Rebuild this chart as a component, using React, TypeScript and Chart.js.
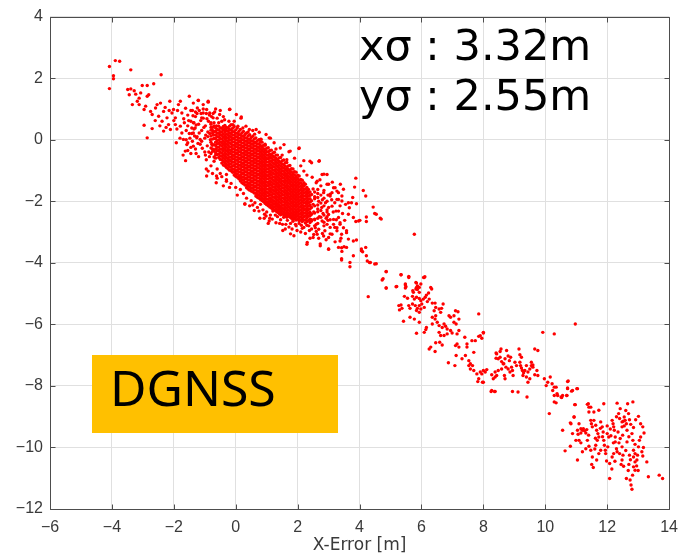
import { useEffect, useRef } from "react";
import { Chart, registerables } from "chart.js";

Chart.register(...registerables);

// ---- axes ----
const xMin = -6;
const xMax = 14;
const yMin = -12;
const yMax = 4;
const tickStep = 2;
const xAxisTitle = "X-Error [m]";

// ---- annotations ----
const sigmaLines = ["xσ : 3.32m", "yσ : 2.55m"];
const badgeText = "DGNSS";

// ---- data (X-Error, Y-Error) in metres ----
const tailPoints: number[][] = [
  [-4.08, 2.38], [-3.89, 2.57], [-3.75, 2.55], [-3.95, 2.08], [-3.95, 1.98], [-4.08, 1.66], [-3.39, 2.27], [-2.41, 2.11],
  [-3.49, 1.63], [-3.39, 1.65], [-3.28, 1.59], [-3.02, 1.76], [-2.86, 1.76], [-2.65, 1.82],
  [-3.44, 1.46], [-3.23, 1.48], [-3.12, 1.35], [-3.07, 1.52],
  [-3.34, 1.14], [-3.18, 1.25], [-3.12, 1.14], [-2.91, 1.09], [-2.86, 1.41], [-2.81, 1.46],
  [-2.96, 0.98], [-2.75, 0.92], [-2.7, 0.82], [-2.59, 1.03], [-2.54, 1.14], [-2.43, 1.19],
  [-2.96, 0.47], [-2.7, 0.36], [-2.86, 0.06],
  [-2.49, 0.76], [-2.38, 0.6], [-2.33, 0.92], [-2.22, 0.71], [-2.13, 1.25], [-2.17, 0.49],
  [-2.06, 0.87], [-2.01, 0.98], [-1.95, 0.71], [-1.85, 1.14], [-1.79, 1.25], [-1.74, 0.87],
  [-1.5, 1.41], [-1.37, 1.19], [-1.21, 1.27], [-1.05, 1.14], [-0.89, 1.25],
  [-1.74, 0.22], [-1.69, 0.01], [-1.63, -0.37], [-1.58, -0.16],
  [-2.33, 0.28], [-2.11, 0.33], [-1.95, 0.49], [-1.79, 0.44],
  [-2.28, 1.05], [-2.15, 0.95], [-2.0, 0.62], [-1.9, 0.35], [-1.88, 0.95], [-1.68, 0.68], [-1.62, 1.02],
  [-1.55, 0.8], [-1.45, 0.95], [-1.42, 0.2], [-1.3, 0.9], [-2.45, 0.45], [-2.6, 0.62], [-2.25, 0.4],
  [-1.8, 0.05], [-1.92, -0.1], [-1.45, -0.45],
];

const haloPoints: number[][] = [
  [-1.55, 0.45], [-1.5, 0.2], [-1.45, 0.6], [-1.4, -0.05], [-1.35, 0.35], [-1.3, 0.75], [-1.3, -0.3], [-1.25, 0.1],
  [-1.2, 0.5], [-1.18, 0.95], [-1.15, -0.15], [-1.1, 0.3], [-1.05, 0.7], [-1.0, -0.4], [-1.0, 0.05], [-0.98, 0.45],
  [-0.95, 0.85], [-0.92, -0.2], [-0.9, 0.25], [-0.88, 0.6], [-0.85, -0.55], [-0.82, 0.0], [-0.8, 0.4], [-0.78, 0.75],
  [-0.75, -0.3], [-0.72, 0.15], [-0.7, 0.55], [-0.7, -0.7], [-0.68, 0.9], [-0.65, -0.5], [-0.62, 0.45], [-0.6, 0.7],
  [-1.45, -0.25], [-1.2, -0.55], [-0.95, -0.65], [-0.8, -0.85], [-0.6, -0.95], [-1.6, 0.0], [-1.35, 0.55], [-1.1, -0.05],
  [-0.9, 0.1], [-0.75, 0.3], [-0.85, 0.8], [-1.25, 0.85], [-1.05, 1.0], [-0.65, 1.0], [-0.5, 0.95], [-0.4, 0.75],
  [-0.55, 0.55], [-0.45, 0.6], [-1.7, -0.5], [-1.62, -0.68], [-1.55, -0.35], [-0.95, -0.95], [-0.75, -1.1], [-0.6, -1.25],
  [-0.4, -1.5], [-0.3, -1.3], [-0.2, -1.55], [-0.5, -1.1], [-0.63, -1.4], [0.29, -2.09], [0.93, -2.42],
  [-1.21, 1.28], [-0.89, 1.22], [-1.24, 1.03], [-0.94, 0.98], [-1.05, 0.87], [-0.84, 0.87], [-1.1, 0.71], [-0.73, 0.71],
  [-0.52, 0.82], [-0.2, 0.98], [0.02, 0.82], [-0.36, 0.65], [0.18, 0.74], [-0.22, 0.6], [-0.09, 0.49], [0.07, 0.44],
  [0.23, 0.38], [0.44, 0.33], [0.66, 0.33], [0.76, 0.24], [0.82, 0.01], [0.98, 0.17], [-1.37, 0.55], [-1.31, 0.38],
  [-1.37, 0.22], [-1.26, 0.06], [-1.15, 0.01], [-1.37, -0.21], [-0.94, -1.18], [-0.62, -1.18], [-0.89, -1.02], [-0.3, -1.13],
  [-1.52, 0.62], [-1.48, 0.05], [-1.42, 0.38], [-1.38, 0.78], [-1.33, 0.12], [-1.28, 0.48], [-1.22, -0.12], [-1.18, 0.22],
  [-1.13, 0.62], [-1.08, -0.28], [-1.03, 0.4], [-0.97, 0.15], [-0.93, 0.68], [-0.87, -0.4], [-0.84, 0.2], [-0.8, 0.55],
  [-0.77, -0.15], [-0.73, 0.85], [-1.12, 0.85], [-0.98, -0.5], [-1.28, -0.45], [-1.4, 0.95], [-1.6, 0.3], [-1.66, 0.55],
  [-1.55, -0.1],
];

const coreColumns: [number, number[]][] = [
  [-0.8, [0.5, 0.31, 0.12, -0.08, -0.27, -0.45]],
  [-0.7, [0.45, 0.26, 0.04, -0.16, -0.35, -0.56]],
  [-0.6, [0.33, 0.21, 0.1, -0.03, -0.13, -0.25, -0.36, -0.48]],
  [-0.5, [0.38, 0.26, 0.16, 0.04, -0.07, -0.17, -0.3, -0.41, -0.53, -0.64]],
  [-0.4, [0.43, 0.31, 0.19, 0.08, -0.04, -0.15, -0.26, -0.36, -0.49, -0.59, -0.71, -0.82]],
  [-0.3, [0.4, 0.3, 0.18, 0.07, -0.03, -0.14, -0.24, -0.36, -0.47, -0.58, -0.69, -0.8, -0.9]],
  [-0.2, [0.44, 0.33, 0.22, 0.11, 0.0, -0.11, -0.23, -0.34, -0.44, -0.56, -0.67, -0.78, -0.88, -0.99]],
  [-0.1, [0.37, 0.26, 0.15, 0.04, -0.07, -0.18, -0.29, -0.4, -0.51, -0.62, -0.73, -0.85, -0.96, -1.06]],
  [0.0, [0.32, 0.21, 0.1, -0.01, -0.12, -0.23, -0.34, -0.45, -0.56, -0.67, -0.79, -0.89, -1.0, -1.1, -1.19]],
  [0.1, [0.27, 0.16, 0.05, -0.06, -0.17, -0.28, -0.39, -0.5, -0.61, -0.72, -0.83, -0.94, -1.05, -1.17, -1.27]],
  [0.2, [0.22, 0.11, 0.0, -0.11, -0.22, -0.33, -0.44, -0.55, -0.66, -0.77, -0.88, -0.99, -1.1, -1.21, -1.3, -1.4]],
  [0.3, [0.17, 0.06, -0.05, -0.16, -0.27, -0.38, -0.49, -0.6, -0.71, -0.82, -0.93, -1.04, -1.15, -1.26, -1.38, -1.47]],
  [0.4, [0.12, 0.01, -0.1, -0.21, -0.32, -0.43, -0.54, -0.65, -0.76, -0.87, -0.98, -1.09, -1.2, -1.31, -1.42, -1.51, -1.6]],
  [0.5, [0.07, -0.04, -0.15, -0.26, -0.37, -0.48, -0.59, -0.7, -0.81, -0.92, -1.03, -1.14, -1.25, -1.36, -1.47, -1.58, -1.67]],
  [0.6, [0.02, -0.09, -0.2, -0.31, -0.42, -0.53, -0.64, -0.75, -0.86, -0.97, -1.08, -1.19, -1.3, -1.41, -1.52, -1.63, -1.73]],
  [0.7, [-0.03, -0.14, -0.25, -0.36, -0.47, -0.58, -0.69, -0.8, -0.91, -1.02, -1.13, -1.24, -1.35, -1.46, -1.57, -1.68, -1.78, -1.87]],
  [0.8, [-0.08, -0.19, -0.3, -0.41, -0.52, -0.63, -0.74, -0.85, -0.96, -1.07, -1.18, -1.29, -1.4, -1.51, -1.62, -1.73, -1.84, -1.94]],
  [0.9, [-0.18, -0.29, -0.4, -0.51, -0.62, -0.73, -0.84, -0.95, -1.06, -1.17, -1.28, -1.39, -1.5, -1.61, -1.72, -1.83, -1.93, -2.02]],
  [1.0, [-0.28, -0.39, -0.5, -0.61, -0.72, -0.83, -0.94, -1.05, -1.16, -1.27, -1.38, -1.49, -1.6, -1.71, -1.82, -1.93, -2.03, -2.11]],
  [1.1, [-0.35, -0.46, -0.57, -0.68, -0.79, -0.9, -1.01, -1.12, -1.23, -1.34, -1.45, -1.56, -1.67, -1.78, -1.89, -2.0, -2.1, -2.19]],
  [1.2, [-0.43, -0.54, -0.65, -0.76, -0.87, -0.98, -1.09, -1.2, -1.31, -1.42, -1.53, -1.64, -1.75, -1.86, -1.97, -2.07, -2.17, -2.26]],
  [1.3, [-0.5, -0.61, -0.72, -0.83, -0.94, -1.05, -1.16, -1.27, -1.38, -1.49, -1.6, -1.71, -1.82, -1.93, -2.04, -2.14, -2.24, -2.32]],
  [1.4, [-0.59, -0.7, -0.81, -0.92, -1.03, -1.14, -1.25, -1.36, -1.47, -1.58, -1.69, -1.8, -1.91, -2.02, -2.13, -2.23, -2.32, -2.4]],
  [1.5, [-0.68, -0.79, -0.9, -1.01, -1.12, -1.23, -1.34, -1.45, -1.56, -1.67, -1.78, -1.89, -2.0, -2.11, -2.21, -2.31, -2.41]],
  [1.6, [-0.75, -0.86, -0.97, -1.08, -1.19, -1.3, -1.41, -1.52, -1.63, -1.74, -1.85, -1.96, -2.07, -2.18, -2.29, -2.39, -2.47]],
  [1.7, [-0.85, -0.96, -1.07, -1.18, -1.29, -1.4, -1.51, -1.62, -1.73, -1.84, -1.95, -2.06, -2.17, -2.28, -2.38, -2.48]],
  [1.8, [-0.94, -1.05, -1.16, -1.27, -1.38, -1.49, -1.6, -1.71, -1.82, -1.93, -2.04, -2.15, -2.26, -2.37, -2.47, -2.55]],
  [1.9, [-1.04, -1.15, -1.26, -1.37, -1.48, -1.59, -1.7, -1.81, -1.92, -2.03, -2.14, -2.25, -2.36, -2.46, -2.56]],
  [2.0, [-1.15, -1.26, -1.37, -1.48, -1.59, -1.7, -1.81, -1.92, -2.03, -2.14, -2.25, -2.36, -2.47, -2.58]],
  [2.1, [-1.29, -1.4, -1.51, -1.62, -1.73, -1.84, -1.95, -2.06, -2.17, -2.28, -2.39, -2.5, -2.61]],
  [2.2, [-1.4, -1.51, -1.62, -1.73, -1.84, -1.95, -2.06, -2.17, -2.28, -2.39, -2.5, -2.62]],
  [2.3, [-1.55, -1.66, -1.77, -1.88, -1.99, -2.1, -2.21, -2.32, -2.43, -2.54, -2.66]],
  [2.4, [-1.7, -1.81, -1.92, -2.03, -2.14, -2.25, -2.36, -2.47, -2.58, -2.69]],
];

const coreHalfColumns: [number, number[]][] = [
  [-0.75, [0.4, 0.21, 0.02, -0.18, -0.38]],
  [-0.65, [0.38, 0.27, 0.15, 0.04, -0.08, -0.19, -0.3, -0.42, -0.6]],
  [-0.55, [0.44, 0.32, 0.21, 0.1, -0.01, -0.12, -0.24, -0.35, -0.47, -0.58]],
  [-0.45, [0.37, 0.25, 0.14, 0.02, -0.09, -0.2, -0.31, -0.43, -0.54, -0.65, -0.76]],
  [-0.35, [0.46, 0.36, 0.25, 0.13, 0.02, -0.09, -0.19, -0.3, -0.42, -0.53, -0.64, -0.75, -0.85]],
  [-0.25, [0.38, 0.27, 0.16, 0.05, -0.06, -0.17, -0.29, -0.39, -0.5, -0.61, -0.72, -0.83, -0.94]],
  [-0.15, [0.49, 0.31, 0.2, 0.09, -0.02, -0.13, -0.24, -0.35, -0.46, -0.57, -0.68, -0.79, -0.9, -1.01]],
  [-0.05, [0.43, 0.26, 0.15, 0.04, -0.07, -0.18, -0.29, -0.4, -0.51, -0.62, -0.73, -0.84, -0.95, -1.05, -1.15]],
  [0.05, [0.38, 0.21, 0.1, -0.01, -0.12, -0.23, -0.34, -0.45, -0.56, -0.67, -0.78, -0.89, -1.0, -1.11, -1.22]],
  [0.15, [0.33, 0.16, 0.05, -0.06, -0.17, -0.28, -0.39, -0.5, -0.61, -0.72, -0.83, -0.94, -1.05, -1.16, -1.25, -1.34]],
  [0.25, [0.27, 0.11, 0.0, -0.11, -0.22, -0.33, -0.44, -0.55, -0.66, -0.77, -0.88, -0.99, -1.1, -1.21, -1.32, -1.43]],
  [0.35, [0.22, 0.06, -0.05, -0.16, -0.27, -0.38, -0.49, -0.6, -0.71, -0.82, -0.93, -1.04, -1.15, -1.26, -1.37, -1.48, -1.56]],
  [0.45, [0.16, 0.01, -0.1, -0.21, -0.32, -0.43, -0.54, -0.65, -0.76, -0.87, -0.98, -1.09, -1.2, -1.31, -1.42, -1.53, -1.64]],
  [0.55, [0.11, -0.04, -0.15, -0.26, -0.37, -0.48, -0.59, -0.7, -0.81, -0.92, -1.03, -1.14, -1.25, -1.36, -1.47, -1.58, -1.69]],
  [0.65, [0.06, -0.09, -0.2, -0.31, -0.42, -0.53, -0.64, -0.75, -0.86, -0.97, -1.08, -1.19, -1.3, -1.41, -1.52, -1.63, -1.74, -1.83]],
  [0.75, [0.0, -0.14, -0.25, -0.36, -0.47, -0.58, -0.69, -0.8, -0.91, -1.02, -1.13, -1.24, -1.35, -1.46, -1.57, -1.68, -1.79, -1.9]],
  [0.85, [-0.08, -0.24, -0.35, -0.46, -0.57, -0.68, -0.79, -0.9, -1.01, -1.12, -1.23, -1.34, -1.45, -1.56, -1.67, -1.78, -1.89, -1.98]],
  [0.95, [-0.18, -0.34, -0.45, -0.56, -0.67, -0.78, -0.89, -1.0, -1.11, -1.22, -1.33, -1.44, -1.55, -1.66, -1.77, -1.88, -1.98, -2.07]],
  [1.05, [-0.26, -0.4, -0.51, -0.62, -0.73, -0.84, -0.95, -1.06, -1.17, -1.28, -1.39, -1.5, -1.61, -1.72, -1.83, -1.94, -2.05, -2.15]],
  [1.15, [-0.34, -0.49, -0.6, -0.71, -0.82, -0.93, -1.04, -1.15, -1.26, -1.37, -1.48, -1.59, -1.7, -1.81, -1.92, -2.02, -2.12, -2.22]],
  [1.25, [-0.41, -0.56, -0.67, -0.78, -0.89, -1.0, -1.11, -1.22, -1.33, -1.44, -1.55, -1.66, -1.77, -1.88, -1.99, -2.09, -2.19, -2.29]],
  [1.35, [-0.5, -0.65, -0.76, -0.87, -0.98, -1.09, -1.2, -1.31, -1.42, -1.53, -1.64, -1.75, -1.86, -1.97, -2.08, -2.18, -2.28, -2.36]],
  [1.45, [-0.58, -0.74, -0.85, -0.96, -1.07, -1.18, -1.29, -1.4, -1.51, -1.62, -1.73, -1.84, -1.95, -2.06, -2.17, -2.27, -2.36, -2.44]],
  [1.55, [-0.66, -0.81, -0.92, -1.03, -1.14, -1.25, -1.36, -1.47, -1.58, -1.69, -1.8, -1.91, -2.02, -2.13, -2.24, -2.35, -2.44]],
  [1.65, [-0.74, -0.91, -1.02, -1.13, -1.24, -1.35, -1.46, -1.57, -1.68, -1.79, -1.9, -2.01, -2.12, -2.23, -2.34, -2.43, -2.52]],
  [1.75, [-0.84, -1.0, -1.11, -1.22, -1.33, -1.44, -1.55, -1.66, -1.77, -1.88, -1.99, -2.1, -2.21, -2.32, -2.42, -2.51]],
  [1.85, [-0.95, -1.1, -1.21, -1.32, -1.43, -1.54, -1.65, -1.76, -1.87, -1.98, -2.09, -2.2, -2.31, -2.41, -2.5, -2.6]],
  [1.95, [-1.06, -1.2, -1.31, -1.42, -1.53, -1.64, -1.75, -1.86, -1.97, -2.08, -2.19, -2.3, -2.41, -2.51, -2.61]],
  [2.05, [-1.18, -1.32, -1.43, -1.54, -1.65, -1.76, -1.87, -1.98, -2.09, -2.2, -2.31, -2.42, -2.53, -2.63]],
  [2.15, [-1.32, -1.46, -1.57, -1.68, -1.79, -1.9, -2.01, -2.12, -2.23, -2.34, -2.45, -2.56, -2.66]],
  [2.25, [-1.45, -1.6, -1.71, -1.82, -1.93, -2.04, -2.15, -2.26, -2.37, -2.48, -2.6, -2.71]],
  [2.35, [-1.62, -1.72, -1.83, -1.94, -2.05, -2.16, -2.27, -2.38, -2.49, -2.62]],
  [2.45, [-1.78, -1.98, -2.2, -2.42, -2.64]],
  [2.55, [-1.7, -1.92, -2.15, -2.38, -2.58]],
  [2.65, [-1.62, -1.88, -2.12, -2.34, -2.55, -2.72]],
  [2.75, [-1.8, -2.06, -2.3, -2.52]],
  [2.85, [-1.9, -2.15, -2.45, -2.68]],
  [2.95, [-2.0, -2.28, -2.5]],
];

const rimPoints: number[][] = [
  [-0.19, 0.99], [0.17, 0.7], [0.33, 0.44], [0.61, 0.18], [0.81, 0.02], [1.12, 0.05], [1.44, -0.27], [1.76, -0.37],
  [2.05, -0.27], [2.4, -0.7], [2.69, -0.7], [2.2, -1.02], [2.85, -1.12], [3.05, -1.77], [3.27, -1.67], [1.08, 0.06],
  [1.24, -0.1], [1.56, -0.16], [1.72, -0.39], [1.3, -0.3], [1.9, -0.6], [2.1, -0.85], [2.3, -1.15], [1.5, -0.5],
  [1.65, -0.65], [0.95, -0.15], [0.4, 0.25], [-0.05, 0.6], [0.55, 0.3],
  [2.04, -0.29], [2.2, -0.68], [2.45, -0.75], [2.7, -0.68], [2.79, -1.13], [2.95, -1.13], [2.47, -1.22], [2.63, -1.35],
  [3.0, -1.45], [3.16, -1.56], [3.32, -1.72], [2.84, -1.72], [3.05, -1.83], [3.27, -1.94], [3.43, -1.99], [3.11, -2.16],
  [3.32, -2.32], [3.0, -2.43], [3.16, -2.59], [3.37, -2.7], [3.27, -2.86], [2.95, -2.75], [2.79, -2.64], [2.57, -2.86],
  [2.68, -2.91], [2.36, -2.8], [2.15, -2.88], [1.93, -2.75], [1.72, -2.84], [1.51, -2.75], [1.3, -2.7], [1.08, -2.64],
  [0.92, -2.55],
  [-0.45, -1.2], [-0.3, -1.35], [-0.15, -1.42], [0.0, -1.55], [0.15, -1.62], [0.05, -1.8], [0.25, -1.75], [0.35, -1.9],
  [0.3, -2.09], [0.5, -1.98], [0.45, -2.15], [0.62, -2.05], [0.7, -2.2], [0.8, -2.1], [0.88, -2.28], [1.0, -2.35],
  [1.12, -2.45], [1.2, -2.32], [1.35, -2.5], [1.45, -2.6], [1.55, -2.52], [1.67, -2.62], [1.77, -2.72], [1.85, -2.65],
  [1.95, -2.8], [2.05, -2.72], [2.2, -2.85], [2.3, -2.78], [2.45, -2.9], [2.55, -2.8], [2.6, -2.98], [1.77, -3.06],
  [2.1, -3.0], [1.6, -2.9], [0.6, -2.3], [1.1, -2.55], [2.88, -2.96], [3.05, -3.06], [2.73, -3.45], [3.0, -3.55],
  [3.42, -3.87], [2.4, -3.2],
  [2.5, -1.6], [2.55, -1.85], [2.5, -2.1], [2.52, -2.35], [2.55, -2.6], [2.65, -1.75], [2.68, -2.0], [2.65, -2.25],
  [2.7, -2.5], [2.75, -1.5], [2.8, -1.95], [2.78, -2.2], [2.82, -2.4], [2.85, -1.65], [2.9, -2.05], [2.92, -2.55],
  [2.98, -1.8], [3.0, -2.2], [3.05, -2.6], [3.1, -1.95], [3.15, -2.35], [3.2, -2.05], [3.25, -2.6], [2.6, -1.4],
  [2.72, -1.3], [2.95, -2.35], [2.6, -2.75], [2.45, -2.6], [2.4, -2.45], [3.05, -2.85], [2.85, -2.8],
  [0.55, -2.12], [0.75, -2.32], [0.98, -2.48], [1.18, -2.58], [1.28, -2.45], [1.42, -2.72], [1.62, -2.75], [1.82, -2.9],
  [1.98, -2.95], [2.12, -2.78], [2.25, -3.05], [2.38, -2.95], [2.52, -3.08], [2.68, -3.2], [2.8, -3.05], [2.92, -3.25],
  [1.88, -3.12], [2.3, -3.4], [1.52, -2.95], [1.05, -2.72], [0.78, -2.55],
  [3.12, -1.38], [3.38, -1.45], [3.45, -2.4], [3.52, -2.62], [3.55, -2.1], [2.98, -2.62], [3.2, -2.85], [3.4, -3.2],
];

const trailPoints: number[][] = [
  [3.84, -1.54], [4.12, -1.65], [4.2, -1.83], [3.78, -1.88], [3.64, -2.05], [3.9, -2.08], [3.67, -2.21], [4.44, -2.19],
  [4.49, -2.4], [4.67, -2.55], [4.22, -2.51], [4.22, -2.66], [4.01, -2.62], [3.88, -2.66], [3.8, -2.53], [3.64, -2.42],
  [5.77, -3.07], [3.58, -3.02], [3.8, -3.29], [3.9, -3.26], [3.64, -3.23], [4.06, -3.61], [4.2, -3.5], [4.1, -3.64],
  [3.8, -3.77], [4.22, -3.77], [4.25, -3.94], [4.35, -3.99], [4.49, -4.04], [3.69, -3.99], [3.42, -3.91], [3.69, -4.13],
  [4.86, -4.28], [4.73, -4.56], [5.18, -4.78], [4.86, -4.82], [5.34, -4.39], [5.48, -4.69], [5.5, -4.78], [5.59, -4.48],
  [5.82, -4.85], [5.87, -4.75], [5.93, -4.8], [5.98, -4.69], [6.09, -4.48], [5.82, -4.64], [5.72, -4.91],
  [2.73, -3.39], [3.0, -3.56], [3.32, -3.5], [3.43, -3.63], [3.5, -3.48], [3.58, -3.5], [3.21, -3.32], [3.37, -3.29],
  [2.31, -3.34], [2.5, -3.18], [2.63, -3.07], [2.84, -3.13], [3.0, -3.18], [3.11, -3.07], [3.27, -2.96], [3.42, -3.07],
  [3.48, -2.86], [3.37, -2.75], [3.16, -2.75], [3.32, -2.53], [3.24, -2.32], [3.37, -2.15], [3.32, -1.94], [3.43, -1.83],
  [3.48, -1.61], [3.21, -1.56], [3.11, -1.72], [2.95, -1.45],
  [3.88, -1.25], [3.74, -2.05], [4.54, -2.42], [4.7, -2.58], [3.97, -2.64], [3.58, -2.96], [3.42, -3.51], [4.06, -3.55],
  [4.32, -3.99], [4.54, -4.03], [4.76, -4.52], [6.07, -4.48], [4.28, -5.1],
];

const middlePoints: number[][] = [
  [4.86, -4.29], [4.86, -4.82], [5.34, -4.39], [5.59, -4.44], [6.11, -4.45], [5.2, -4.77], [5.48, -4.72], [5.48, -4.82],
  [5.74, -4.96], [5.84, -4.66], [5.84, -4.8], [5.87, -4.87], [5.93, -4.96], [5.45, -5.09], [5.55, -5.15], [5.71, -5.09],
  [5.77, -5.18], [5.84, -5.12], [5.93, -5.16], [5.98, -5.23], [6.06, -5.18], [6.12, -5.12], [6.16, -5.05], [6.23, -4.98],
  [6.3, -4.8], [6.33, -4.85], [6.25, -5.18], [6.19, -5.26], [5.27, -5.39], [5.34, -5.37], [5.37, -5.48], [5.29, -5.53],
  [5.59, -5.39], [5.63, -5.48], [5.71, -5.34], [5.8, -5.39], [5.87, -5.48], [5.93, -5.39], [5.98, -5.5], [6.01, -5.34],
  [6.09, -5.45], [5.84, -5.55], [5.93, -5.61], [5.63, -5.77], [5.77, -5.83], [5.93, -5.93], [5.42, -5.9], [6.35, -5.31],
  [6.44, -5.31], [6.46, -5.45], [6.41, -5.56], [6.57, -5.5], [6.62, -5.61], [6.7, -5.34], [6.35, -5.77], [6.44, -5.83],
  [6.46, -5.72], [6.51, -5.93], [6.65, -5.48], [6.16, -6.1], [6.09, -6.26], [5.84, -6.29], [6.14, -6.17], [6.35, -5.99],
  [6.57, -6.04], [6.67, -6.1], [6.73, -5.99], [6.78, -6.06], [6.83, -6.15], [6.89, -5.72], [6.94, -5.77], [7.05, -5.72],
  [7.1, -5.56], [7.18, -5.59], [7.21, -5.83], [7.05, -5.93], [7.12, -5.99], [6.57, -6.26], [6.62, -6.36], [6.73, -6.36],
  [6.83, -6.31], [6.94, -6.2], [6.99, -6.28], [7.15, -6.31], [7.21, -6.2], [6.59, -6.58], [6.46, -6.6], [6.67, -6.67],
  [6.3, -6.74], [6.25, -6.8], [6.44, -6.88], [6.87, -7.25], [7.08, -7.34], [7.12, -7.01], [7.1, -6.69], [7.15, -6.64],
  [7.21, -6.74], [7.4, -6.42], [7.47, -6.64], [7.47, -6.74], [7.42, -7.01], [7.31, -7.12], [7.53, -7.18], [7.58, -7.28],
  [7.65, -7.34], [7.69, -7.5], [7.58, -7.45], [7.53, -7.34], [7.69, -6.91], [7.63, -6.53], [7.74, -6.53], [7.85, -6.39],
  [7.95, -6.45], [8.0, -6.28], [7.85, -5.66], [7.79, -7.61], [7.85, -7.77], [7.95, -7.61], [8.0, -7.5], [8.06, -7.55],
  [7.82, -7.86], [7.97, -7.88], [8.25, -8.18], [8.36, -8.18], [8.43, -6.96], [8.48, -7.12], [8.54, -7.07], [8.38, -7.55],
  [8.43, -7.66], [8.48, -7.5], [8.59, -7.45], [8.64, -7.28], [8.68, -7.66], [8.7, -7.77],
  [7.9, -6.37], [8.0, -6.26], [7.9, -7.55], [8.11, -7.47], [8.0, -7.88], [8.27, -7.64], [8.32, -7.77], [8.38, -7.71],
  [8.41, -6.93], [8.54, -6.88], [8.57, -6.8], [8.41, -7.1], [8.59, -7.21], [8.7, -7.12], [8.75, -6.85], [8.8, -7.03],
  [8.84, -7.18], [8.66, -7.28], [8.73, -7.39], [8.8, -7.45], [8.86, -7.55], [8.91, -7.39], [8.94, -7.5], [8.96, -7.66],
  [8.88, -7.07], [9.02, -7.23], [9.07, -7.34], [9.15, -6.8], [9.18, -6.99], [9.23, -7.07], [9.18, -7.23], [9.2, -7.34],
  [9.23, -7.42], [9.26, -7.5], [9.3, -7.57], [9.28, -7.66], [9.34, -7.5], [9.39, -7.34], [9.44, -7.55], [9.5, -7.45],
  [9.55, -7.34], [9.6, -7.39], [9.39, -7.71], [9.5, -7.77], [9.44, -7.88], [9.55, -7.23], [9.6, -7.32], [9.66, -6.8],
  [9.76, -6.85], [9.73, -7.5], [9.76, -7.66], [9.66, -7.64], [9.92, -6.26], [10.29, -6.31], [10.97, -5.99], [8.27, -8.15],
  [8.38, -8.18], [8.94, -8.18], [9.12, -8.2], [9.41, -8.36], [9.97, -7.77], [10.08, -7.88], [10.16, -7.71], [10.03, -7.99],
  [10.22, -7.93], [10.24, -8.15], [10.35, -8.04], [10.4, -8.31], [10.29, -8.31], [10.51, -8.36], [10.56, -8.31], [10.69, -8.31],
  [10.72, -7.86], [10.72, -8.07], [10.88, -8.15], [11.04, -8.09], [10.35, -8.55], [10.13, -8.9], [10.97, -8.61], [10.93, -9.01],
  [11.09, -9.23], [10.83, -9.23], [11.39, -8.58], [11.47, -8.69], [11.41, -8.85], [11.57, -8.85], [11.15, -9.39],
];

const clusterPoints: number[][] = [
  [10.29, -8.04], [10.38, -8.25], [10.29, -8.52], [10.53, -8.38], [10.7, -8.31], [10.74, -7.84], [10.72, -8.09], [10.85, -8.17],
  [11.02, -8.09], [10.56, -9.44], [10.64, -10.11], [10.81, -9.96], [10.81, -9.2], [10.88, -9.55], [10.93, -9.01], [10.95, -8.61],
  [10.99, -9.77], [11.04, -9.44], [11.06, -9.57], [11.04, -10.41], [11.09, -9.77], [11.15, -9.53], [11.2, -9.44], [11.23, -9.39],
  [11.27, -9.46], [11.31, -9.53], [11.34, -9.42], [11.36, -9.77], [11.36, -8.6], [11.41, -8.69], [11.47, -9.12], [11.49, -9.23],
  [11.52, -9.33], [11.2, -10.14], [11.31, -10.04], [11.41, -9.96], [11.47, -10.09], [11.52, -10.31], [11.57, -9.12], [11.63, -9.28],
  [11.66, -9.44], [11.7, -9.55], [11.73, -9.66], [11.68, -9.77], [11.63, -9.93], [11.55, -10.65], [11.66, -10.41], [11.73, -10.2],
  [11.79, -10.09], [11.73, -8.79], [11.79, -9.17], [11.84, -9.33], [11.87, -9.5], [11.89, -8.58], [11.89, -9.77], [11.91, -9.93],
  [11.94, -10.09], [11.98, -10.44], [12.0, -9.55], [12.05, -9.66], [12.02, -9.98], [12.08, -10.52], [12.16, -10.31], [12.21, -10.2],
  [12.08, -11.01], [12.16, -9.12], [12.19, -9.23], [12.21, -9.33], [12.23, -9.44], [12.26, -9.66], [12.26, -9.82], [12.3, -10.04],
  [12.32, -10.14], [12.32, -8.56], [12.37, -8.9], [12.4, -9.06], [12.42, -8.74], [12.48, -9.17], [12.48, -9.33], [12.42, -9.71],
  [12.48, -9.98], [12.51, -10.25], [12.48, -10.41], [12.53, -10.61], [12.55, -9.01], [12.58, -9.12], [12.62, -9.23], [12.64, -9.44],
  [12.64, -9.82], [12.66, -8.58], [12.69, -8.9], [12.72, -9.1], [12.76, -9.25], [12.8, -9.55], [12.83, -9.77], [12.83, -8.52],
  [12.85, -10.09], [12.85, -10.31], [12.9, -10.47], [12.85, -10.63], [12.9, -10.74], [12.62, -11.01], [12.74, -11.06], [12.77, -11.22],
  [12.8, -11.36], [12.96, -10.41], [12.98, -10.25], [13.01, -9.98], [13.04, -9.77], [13.08, -9.66], [13.01, -8.99], [13.08, -9.23],
  [13.15, -9.33], [13.19, -9.53], [13.12, -10.14], [13.15, -10.28], [13.17, -10.0], [13.33, -10.95], [13.28, -10.47], [13.68, -10.9],
  [13.79, -11.01],
  [12.1, -9.4], [12.35, -9.5], [12.5, -9.6], [12.7, -9.65], [12.9, -9.9], [12.6, -10.1], [12.4, -10.2], [12.75, -10.4],
  [12.95, -10.6], [12.7, -10.55], [12.2, -9.85], [12.55, -9.3], [12.85, -9.35], [12.3, -9.0], [12.6, -8.8], [12.0, -9.3],
  [11.85, -9.65], [11.6, -10.05], [11.4, -9.6], [11.15, -9.85], [12.9, -10.2], [13.0, -10.75], [12.45, -10.55], [12.15, -10.7],
  [11.95, -10.2], [12.68, -10.75], [12.82, -10.9], [12.72, -10.25], [12.38, -9.85], [12.12, -9.62], [11.78, -9.38], [11.62, -9.7],
  [12.52, -9.15], [12.92, -9.1], [12.25, -10.45], [11.5, -10.55],
];

const frameColor = "#4d4d4d";

const formatTick = (v: number) => (v < 0 ? "\u2212" + Math.abs(v) : String(v));

const framePlugin = {
  id: "matlabFrame",
  afterDatasetsDraw(chart: any) {
    const { ctx, chartArea: a, scales } = chart;
    const L = Math.round(a.left) + 0.5;
    const R = Math.round(a.right) + 0.5;
    const T = Math.round(a.top) + 0.5;
    const B = Math.round(a.bottom) + 0.5;
    ctx.save();
    ctx.strokeStyle = frameColor;
    ctx.lineWidth = 1;
    ctx.beginPath();
    ctx.rect(L, T, R - L, B - T);
    const tl = 5;
    scales.x.ticks.forEach((t: any) => {
      const px = Math.round(scales.x.getPixelForValue(t.value)) + 0.5;
      ctx.moveTo(px, B);
      ctx.lineTo(px, B - tl);
      ctx.moveTo(px, T);
      ctx.lineTo(px, T + tl);
    });
    scales.y.ticks.forEach((t: any) => {
      const py = Math.round(scales.y.getPixelForValue(t.value)) + 0.5;
      ctx.moveTo(L, py);
      ctx.lineTo(L + tl, py);
      ctx.moveTo(R, py);
      ctx.lineTo(R - tl, py);
    });
    ctx.stroke();
    ctx.restore();
  },
};

export default function App() {
  const canvasRef = useRef<HTMLCanvasElement | null>(null);

  useEffect(() => {
    const canvas = canvasRef.current;
    if (!canvas) return;
    const corePoints: number[][] = [];
    [...coreColumns, ...coreHalfColumns].forEach(([x, ys]) => ys.forEach((y) => corePoints.push([x, y])));
    const all = [...tailPoints, ...haloPoints, ...corePoints, ...rimPoints, ...trailPoints, ...middlePoints, ...clusterPoints];

    const chart = new Chart(canvas, {
      type: "scatter",
      data: {
        datasets: [
          {
            data: all.map(([x, y]) => ({ x, y })),
            backgroundColor: "#ff0000",
            borderWidth: 0,
            pointRadius: 1.7,
            pointHoverRadius: 1.7,
          },
        ],
      },
      options: {
        animation: false,
        responsive: false,
        events: [],
        layout: { padding: { top: 15, right: 11, left: 0, bottom: 0 } },
        plugins: { legend: { display: false }, tooltip: { enabled: false } },
        scales: {
          x: {
            type: "linear",
            min: xMin,
            max: xMax,
            ticks: {
              stepSize: tickStep,
              autoSkip: false,
              maxRotation: 0,
              padding: 9,
              color: "#3a3a3a",
              font: { family: "'Liberation Sans', Arial, sans-serif", size: 16 },
              callback: (v: any) => formatTick(Number(v)),
            },
            grid: { color: "#e0e0e0", lineWidth: 1, drawTicks: false },
            border: { display: false },
            title: {
              display: true,
              text: xAxisTitle,
              color: "#3a3a3a",
              font: { family: "'DejaVu Sans', sans-serif", size: 17 },
              padding: { top: 0, bottom: 0 },
            },
            afterFit: (scale: any) => {
              scale.height = 47;
            },
          },
          y: {
            type: "linear",
            min: yMin,
            max: yMax,
            ticks: {
              stepSize: tickStep,
              autoSkip: false,
              padding: 7,
              color: "#3a3a3a",
              font: { family: "'Liberation Sans', Arial, sans-serif", size: 16 },
              callback: (v: any) => formatTick(Number(v)),
            },
            grid: { color: "#e0e0e0", lineWidth: 1, drawTicks: false },
            border: { display: false },
            afterFit: (scale: any) => {
              scale.width = 50;
            },
          },
        },
      },
      plugins: [framePlugin],
    } as any);

    return () => chart.destroy();
  }, []);

  return (
    <div style={{ position: "absolute", left: 0, top: 0, width: 687, height: 556, background: "#fff" }}>
      <canvas ref={canvasRef} width={687} height={556} style={{ display: "block", width: 687, height: 556 }} />
      <div
        style={{
          position: "absolute",
          left: 359,
          top: 20,
          fontFamily: "'DejaVu Sans', sans-serif",
          fontSize: 43,
          lineHeight: "50px",
          color: "#000",
          whiteSpace: "pre",
        }}
      >
        {sigmaLines.map((s) => (
          <div key={s}>{s}</div>
        ))}
      </div>
      <div
        style={{
          position: "absolute",
          left: 92,
          top: 355,
          width: 246,
          height: 78,
          background: "#ffc000",
        }}
      >
        <div
          style={{
            position: "absolute",
            left: 18,
            top: 7,
            fontFamily: "'Noto Sans', sans-serif",
            fontSize: 50,
            lineHeight: "50px",
            color: "#000",
            whiteSpace: "pre",
          }}
        >
          {badgeText}
        </div>
      </div>
    </div>
  );
}
